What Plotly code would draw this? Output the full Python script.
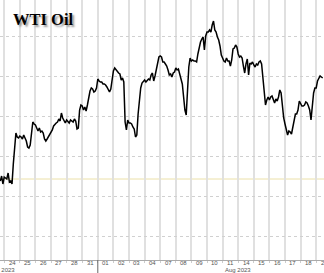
import numpy as np
import plotly.graph_objects as go

# ---------------- data ----------------
TITLE = "WTI Oil"
DAY_LABELS = ["24", "25", "26", "27", "28", "31", "01", "02", "03", "04",
              "07", "08", "09", "10", "11", "14", "15", "16", "17", "18", "21"]
MONTH_LABELS = ["Jul 2023", "Aug 2023"]
MONTH_LABEL_POS = [0.27, 14.5]         # in trading-day units
MONTH_BREAK = 5.5                      # between 31 Jul and 01 Aug
T0 = -0.75                             # first sample, trading days from 24 Jul
STEP = 1 / 12                          # sampling step, trading days
REF_LEVEL = 76.85
GRID_LEVELS = [74, 76, 78, 80, 82, 84]

price = [
    76.75, 77.00, 76.60, 76.95, 76.90, 76.85, 77.15, 76.70, 76.75, 76.60,
    77.60, 78.25, 79.15, 78.95, 78.90, 79.00, 78.95, 78.85, 79.05, 78.90,
    78.75, 78.45, 78.40, 78.55, 79.20, 79.70, 79.60, 79.55, 79.40, 79.25,
    79.40, 79.20, 79.25, 79.15, 78.85, 78.75, 78.85, 78.95, 79.05, 79.15,
    79.30, 79.50, 79.60, 79.65, 79.70, 79.85, 79.75, 80.15, 79.90, 79.80,
    79.65, 79.80, 79.70, 79.65, 79.80, 79.75, 79.70, 79.85, 79.75, 79.35,
    79.40, 80.30, 80.55, 80.50, 80.30, 80.45, 80.25, 80.55, 81.00, 81.25,
    81.40, 81.35, 81.20, 81.25, 81.40, 81.85, 81.75, 81.70, 81.70, 81.60,
    81.60, 81.55, 81.45, 81.35, 81.20, 81.35, 81.95, 82.25, 82.40, 82.30,
    82.25, 82.15, 82.10, 81.80, 81.90, 81.70, 79.70, 79.30, 79.80, 79.65,
    79.65, 79.60, 79.45, 79.35, 78.95, 79.05, 80.10, 81.00, 81.40, 81.65,
    81.75, 81.80, 81.70, 81.80, 81.85, 81.80, 82.05, 82.15, 81.75, 82.00,
    82.30, 82.70, 82.95, 83.00, 82.95, 82.70, 82.70, 82.60, 82.50, 82.30,
    82.05, 82.10, 81.95, 82.15, 82.20, 82.40, 82.30, 82.35, 82.10, 81.95,
    81.60, 80.95, 80.30, 80.05, 81.50, 82.45, 82.90, 82.75, 82.80, 82.75,
    82.75, 82.70, 83.10, 83.50, 83.70, 83.85, 83.95, 83.30, 84.00, 84.20,
    84.20, 84.30, 84.20, 84.55, 84.75, 84.30, 84.20, 83.95, 83.80, 83.50,
    83.05, 82.90, 82.75, 82.70, 82.90, 82.75, 82.75, 82.50, 82.80, 83.35,
    83.40, 83.55, 83.45, 83.10, 82.95, 83.00, 82.90, 82.50, 82.15, 82.60,
    82.85, 82.05, 82.65, 82.60, 82.70, 82.55, 82.45, 82.60, 82.55, 82.70,
    82.75, 82.60, 81.95, 81.20, 80.55, 80.80, 80.95, 80.80, 80.95, 81.00,
    80.80, 80.65, 80.85, 80.75, 80.95, 81.30, 81.15, 80.40, 79.90, 79.60,
    79.30, 79.05, 79.25, 79.20, 79.10, 79.50, 79.85, 80.10, 80.10, 80.30,
    80.75, 80.65, 80.50, 80.50, 80.55, 80.70, 80.65, 80.50, 80.30, 79.80,
    80.40, 81.15, 81.40, 81.40, 81.75, 81.85, 82.00, 81.95, 81.90,
]
t = T0 + np.arange(len(price)) * STEP

# ---------------- figure ----------------
n_days = len(DAY_LABELS)
AXIS_FONT = dict(family="Liberation Sans", size=6, color="#555")

fig = go.Figure()
fig.add_trace(go.Scatter(x=t, y=price, mode="lines",
                         line=dict(color="black", width=1.5),
                         hoverinfo="skip"))

fig.add_shape(type="line", xref="paper", x0=0, x1=1, yref="y",
              y0=REF_LEVEL, y1=REF_LEVEL,
              line=dict(color="#ebe0a8", width=1), layer="below")
fig.add_shape(type="line", xref="x", x0=MONTH_BREAK, x1=MONTH_BREAK,
              yref="paper", y0=0, y1=-0.05,
              line=dict(color="#666", width=1))

fig.add_annotation(text=TITLE, xref="paper", yref="paper",
                   x=0.034, y=0.925, xanchor="left", yanchor="middle",
                   showarrow=False,
                   font=dict(family="Liberation Serif", size=16.5,
                             color="black", weight="bold",
                             shadow="2px 2px 2px #999"))

for i, lab in enumerate(DAY_LABELS):
    fig.add_annotation(text=lab, xref="x", yref="paper", x=i, y=0.002,
                       xanchor="center", yanchor="top", showarrow=False,
                       borderpad=0, font=AXIS_FONT)

fig.add_annotation(text=MONTH_LABELS[0], xref="x", yref="paper",
                   x=MONTH_LABEL_POS[0], y=-0.052, xanchor="right",
                   yanchor="bottom", showarrow=False, borderpad=0,
                   font=AXIS_FONT)
fig.add_annotation(text=MONTH_LABELS[1], xref="x", yref="paper",
                   x=MONTH_LABEL_POS[1], y=-0.052, xanchor="center",
                   yanchor="bottom", showarrow=False, borderpad=0,
                   font=AXIS_FONT)

fig.update_layout(
    width=324, height=273,
    margin=dict(l=0, r=0, t=0, b=13),
    paper_bgcolor="white", plot_bgcolor="white",
    showlegend=False,
    xaxis=dict(
        range=[-0.77, n_days - 1],
        tickmode="array", tickvals=list(range(n_days)), ticktext=DAY_LABELS,
        showgrid=False, ticks="", showticklabels=False,
        showline=True, linecolor="#aaa", linewidth=1, zeroline=False,
        minor=dict(tickvals=[k - 0.5 for k in range(n_days)],
                   showgrid=True, gridcolor="#e0e0e0", gridwidth=1.5,
                   ticks="outside", ticklen=2, tickcolor="#ccc"),
    ),
    yaxis=dict(
        range=[72.8, 85.8], tickvals=GRID_LEVELS, showticklabels=False,
        showgrid=True, gridcolor="#d0d0d0", griddash="dot", gridwidth=1,
        zeroline=False, ticks="",
    ),
)

fig.write_html("out.html")
